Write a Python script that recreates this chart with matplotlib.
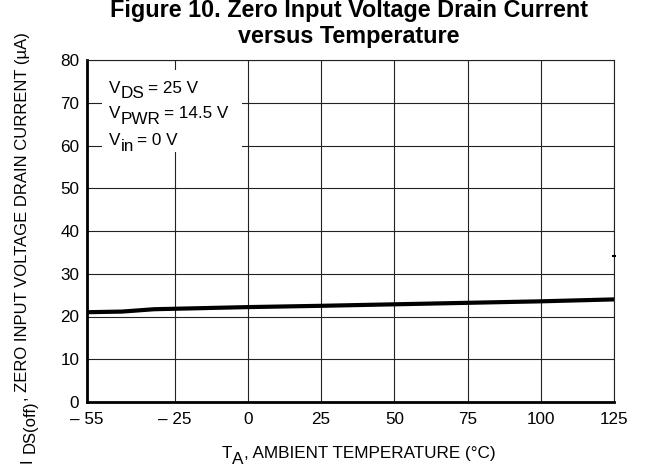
import matplotlib
matplotlib.use("Agg")
import matplotlib.pyplot as plt
from matplotlib import font_manager as fm
from matplotlib.patches import Rectangle

# ---------------- data ----------------
temp = [-55, -43, -32, 0, 25, 50, 75, 100, 125]
current = [21.0, 21.15, 21.7, 22.2, 22.5, 22.85, 23.2, 23.55, 24.0]
stray_x = [125]
stray_y = [34.2]
xticks = [-55, -25, 0, 25, 50, 75, 100, 125]
xticklabels = ['– 55', '– 25', '0', '25', '50', '75', '100', '125']
yticks = [0, 10, 20, 30, 40, 50, 60, 70, 80]
title_lines = ['Figure 10. Zero Input Voltage Drain Current', 'versus Temperature']

# ---------------- fonts ----------------
available = {f.name for f in fm.fontManager.ttflist}


def pick(cands):
    for c in cands:
        if c in available:
            return c
    return 'DejaVu Sans'


mainfam = pick(['Nimbus Sans', 'Liberation Sans', 'Arimo', 'DejaVu Sans'])
boldfam = pick(['Nimbus Sans', 'Liberation Sans', 'Arimo', 'DejaVu Sans'])
plt.rcParams['font.family'] = [mainfam, 'DejaVu Sans']

W, H = 646, 468
fig = plt.figure(figsize=(W / 100, H / 100), dpi=100)
renderer = fig.canvas.get_renderer()

ax_l, ax_r, ax_t, ax_b = 86.7, 614, 60, 402
ax = fig.add_axes([ax_l / W, 1 - ax_b / H, (ax_r - ax_l) / W, (ax_b - ax_t) / H])
ax.set_xlim(-55, 125)
ax.set_ylim(0, 80)
ax.set_xticks(xticks)
ax.set_xticklabels(xticklabels)
ax.set_yticks(yticks)
ax.tick_params(axis='both', length=0, labelsize=12.3)
ax.tick_params(axis='x', pad=7.5)
ax.tick_params(axis='y', pad=5.3)
ax.grid(True, color='#222222', linewidth=0.8)
ax.set_axisbelow(True)
for s in ['top', 'right']:
    ax.spines[s].set_linewidth(0.8)
    ax.spines[s].set_color('#222222')
for s in ['left', 'bottom']:
    ax.spines[s].set_linewidth(2.0)

ax.plot(temp, current, color='black', linewidth=3.0, solid_capstyle='butt', zorder=3)
ax.plot(stray_x, stray_y, linestyle='none', marker='_', markersize=3,
        markeredgewidth=1.5, color='black', clip_on=False, zorder=4)

ax.add_patch(Rectangle((-49.9, 58.55), 47.75, 19.1, facecolor='white',
                       edgecolor='none', zorder=2))


def px(x, y):
    return (x / W, 1 - y / H)


def rich(pieces, x0, y0, rotation=0, size=12):
    pos = 0.0
    for s, dy, gap in pieces:
        pos += gap
        if rotation == 0:
            t = fig.text(*px(x0 + pos, y0 + dy), s, ha='left', va='baseline',
                         fontsize=size, zorder=5)
            pos += t.get_window_extent(renderer).width
        else:
            t = fig.text(*px(x0 + dy, y0 - pos), s, ha='left', va='baseline',
                         rotation=90, rotation_mode='anchor', fontsize=size)
            pos += t.get_window_extent(renderer).height


# annotation block
rich([('V', 0, 0), ('DS', 5.6, 0.3), ('= 25 V', 0, 3)], 109.3, 92.7, size=12.3)
rich([('V', 0, 0), ('PWR', 5.6, 0.3), ('= 14.5 V', 0, 3)], 109.3, 118.3, size=12.3)
rich([('V', 0, 0), ('in', 5.6, 0.3), ('= 0 V', 0, 3)], 109.3, 145, size=12.3)

# x label
rich([('T', 0, 0), ('A', 6.0, 0.2), (', AMBIENT TEMPERATURE (°C)', 0, 0)], 221.7, 458.3, size=12.3)

# y label
rich([('I', 0, 0), ('DS(off)', 3.5, 5), (', ZERO INPUT VOLTAGE DRAIN CURRENT (µA)', -4.5, 0)],
     31.5, 463, rotation=90, size=12)

# title
fig.text(*px(348.5, 17), title_lines[0], ha='center', va='baseline', fontsize=16.8,
         fontweight='bold', family=[boldfam, 'DejaVu Sans'])
fig.text(*px(348.5, 43), title_lines[1], ha='center', va='baseline', fontsize=16.8,
         fontweight='bold', family=[boldfam, 'DejaVu Sans'])

fig.savefig('out.png', dpi=100)
